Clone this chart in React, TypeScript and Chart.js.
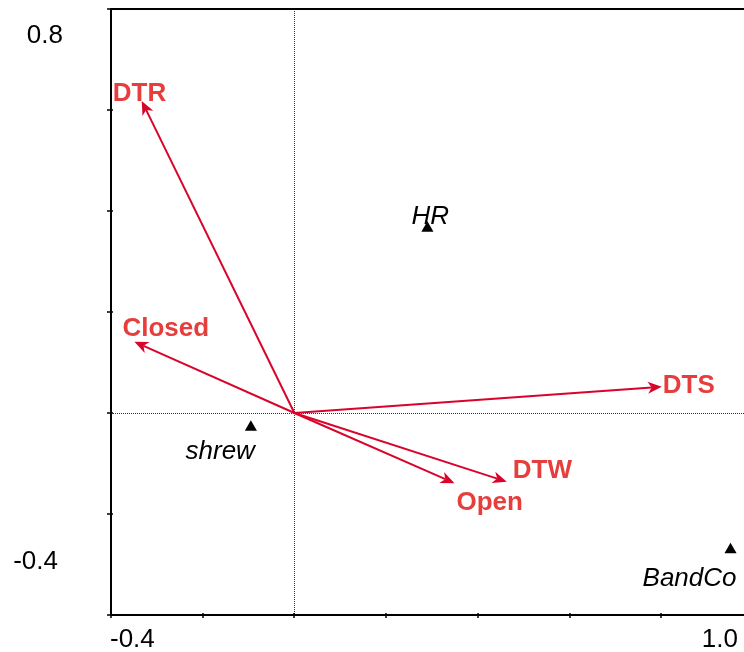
import React, { useEffect, useRef } from "react";
import { Chart, registerables } from "chart.js";

Chart.register(...registerables);

// Environmental variables, drawn as arrows from the origin
const envNames = ["DTR", "Closed", "DTS", "DTW", "Open"];
const envX = [-0.333, -0.349, 0.801, 0.463, 0.349];
const envY = [0.618, 0.141, 0.052, -0.136, -0.139];

// Species scores, drawn as triangles
const speciesNames = ["HR", "shrew", "BandCo"];
const speciesX = [0.29, -0.095, 0.951];
const speciesY = [0.366, -0.028, -0.271];

// Axis ranges, tick marks and end labels
const xMin = -0.4;
const xMax = 1.0;
const yMin = -0.4;
const yMax = 0.8;
const xTickValues = [-0.4, -0.2, 0, 0.2, 0.4, 0.6, 0.8, 1.0];
const yTickValues = [-0.4, -0.2, 0, 0.2, 0.4, 0.6, 0.8];
const xEndLabels = ["-0.4", "1.0"];
const yEndLabels = ["0.8", "-0.4"];

// Label placement (pixel offsets from the mark)
const envLabelOffsets: [number, number][] = [
  [-29, 0],
  [-12, -6],
  [1, 6],
  [6, -4],
  [2, 27],
];
const speciesLabelPlacement: { dx: number; dy: number; align: CanvasTextAlign }[] = [
  { dx: -16, dy: -4, align: "left" },
  { dx: 4, dy: 32, align: "right" },
  { dx: 6, dy: 36, align: "right" },
];

const FONT = '"Liberation Sans", Arial, Helvetica, sans-serif';
const ARROW_COLOR = "#d9042b";
const LABEL_RED = "#e63d3d";

function drawArrow(ctx: CanvasRenderingContext2D, x0: number, y0: number, x1: number, y1: number) {
  const ang = Math.atan2(y1 - y0, x1 - x0);
  const ux = Math.cos(ang);
  const uy = Math.sin(ang);
  const px = -uy;
  const py = ux;
  const len = 14;
  const half = 6;
  const notch = 4;
  ctx.beginPath();
  ctx.moveTo(x0, y0);
  ctx.lineTo(x1 - ux * (len - notch), y1 - uy * (len - notch));
  ctx.stroke();
  ctx.beginPath();
  ctx.moveTo(x1, y1);
  ctx.lineTo(x1 - ux * len + px * half, y1 - uy * len + py * half);
  ctx.lineTo(x1 - ux * (len - notch), y1 - uy * (len - notch));
  ctx.lineTo(x1 - ux * len - px * half, y1 - uy * len - py * half);
  ctx.closePath();
  ctx.fill();
}

const biplotPlugin = {
  id: "biplot",
  beforeDatasetsDraw(chart: any) {
    const { ctx, chartArea, scales } = chart;
    const xs = scales.x;
    const ys = scales.y;
    const { left, top, bottom } = chartArea;
    ctx.save();

    // dotted zero lines
    const zx = Math.floor(xs.getPixelForValue(0)) + 0.5;
    const zy = Math.floor(ys.getPixelForValue(0)) + 0.5;
    ctx.strokeStyle = "#333";
    ctx.lineWidth = 1;
    ctx.setLineDash([1, 1]);
    ctx.beginPath();
    ctx.moveTo(left, zy);
    ctx.lineTo(chart.width, zy);
    ctx.moveTo(zx, top);
    ctx.lineTo(zx, bottom);
    ctx.stroke();
    ctx.setLineDash([]);

    // frame: left, top, bottom
    ctx.strokeStyle = "#000";
    ctx.lineWidth = 2;
    ctx.beginPath();
    ctx.moveTo(left, bottom);
    ctx.lineTo(left, top);
    ctx.lineTo(chart.width, top);
    ctx.moveTo(left - 1, bottom);
    ctx.lineTo(chart.width, bottom);
    ctx.stroke();

    // tick marks crossing the axes
    ctx.lineWidth = 1.5;
    ctx.beginPath();
    yTickValues.forEach((v) => {
      const y = Math.round(ys.getPixelForValue(v));
      ctx.moveTo(left - 4, y);
      ctx.lineTo(left + 2, y);
    });
    xTickValues.forEach((v) => {
      const x = Math.round(xs.getPixelForValue(v));
      ctx.moveTo(x, bottom - 2);
      ctx.lineTo(x, bottom + 3);
    });
    ctx.stroke();

    // axis end labels
    ctx.fillStyle = "#000";
    ctx.font = `26px ${FONT}`;
    ctx.textBaseline = "alphabetic";
    ctx.textAlign = "right";
    ctx.fillText(yEndLabels[0], 63, ys.getPixelForValue(yMax) + 34);
    ctx.fillText(yEndLabels[1], 58, ys.getPixelForValue(yMin) - 46);
    ctx.textAlign = "left";
    ctx.fillText(xEndLabels[0], xs.getPixelForValue(xMin) - 1, bottom + 32);
    ctx.textAlign = "right";
    ctx.fillText(xEndLabels[1], xs.getPixelForValue(xMax) - 15, bottom + 32);
    ctx.restore();
  },
  afterDatasetsDraw(chart: any) {
    const { ctx, scales } = chart;
    const xs = scales.x;
    const ys = scales.y;
    const ox = xs.getPixelForValue(0);
    const oy = ys.getPixelForValue(0);
    ctx.save();

    // environmental arrows
    ctx.strokeStyle = ARROW_COLOR;
    ctx.fillStyle = ARROW_COLOR;
    ctx.lineWidth = 2;
    envNames.forEach((_, i) => {
      drawArrow(ctx, ox, oy, xs.getPixelForValue(envX[i]), ys.getPixelForValue(envY[i]));
    });

    // arrow labels
    ctx.fillStyle = LABEL_RED;
    ctx.font = `bold 26px ${FONT}`;
    ctx.textAlign = "left";
    ctx.textBaseline = "alphabetic";
    envNames.forEach((name, i) => {
      const [dx, dy] = envLabelOffsets[i];
      ctx.fillText(name, xs.getPixelForValue(envX[i]) + dx, ys.getPixelForValue(envY[i]) + dy);
    });

    // species labels
    ctx.fillStyle = "#000";
    ctx.font = `italic 26px ${FONT}`;
    speciesNames.forEach((name, i) => {
      const p = speciesLabelPlacement[i];
      ctx.textAlign = p.align;
      ctx.fillText(name, xs.getPixelForValue(speciesX[i]) + p.dx, ys.getPixelForValue(speciesY[i]) + p.dy);
    });
    ctx.restore();
  },
};

export default function App() {
  const canvasRef = useRef<HTMLCanvasElement | null>(null);

  useEffect(() => {
    const canvas = canvasRef.current;
    if (!canvas) return;
    const chart = new Chart(canvas, {
      type: "scatter",
      data: {
        datasets: [
          {
            label: "species",
            data: speciesX.map((x, i) => ({ x, y: speciesY[i] })),
            pointStyle: "triangle",
            pointRadius: 7,
            pointHoverRadius: 7,
            backgroundColor: "#000",
            borderColor: "#000",
            borderWidth: 0,
          },
        ],
      },
      options: {
        animation: false,
        responsive: false,
        devicePixelRatio: 1,
        events: [],
        layout: { padding: { left: 111, top: 9, right: 7, bottom: 37 } },
        scales: {
          x: { type: "linear", display: false, min: xMin, max: xMax },
          y: { type: "linear", display: false, min: yMin, max: yMax },
        },
        plugins: { legend: { display: false }, tooltip: { enabled: false } },
      },
      plugins: [biplotPlugin],
    });
    return () => chart.destroy();
  }, []);

  return (
    <div
      style={{
        position: "fixed",
        left: 0,
        top: 0,
        width: 744,
        height: 652,
        overflow: "hidden",
        background: "#fff",
      }}
    >
      <canvas ref={canvasRef} width={760} height={652} style={{ display: "block" }} />
    </div>
  );
}
